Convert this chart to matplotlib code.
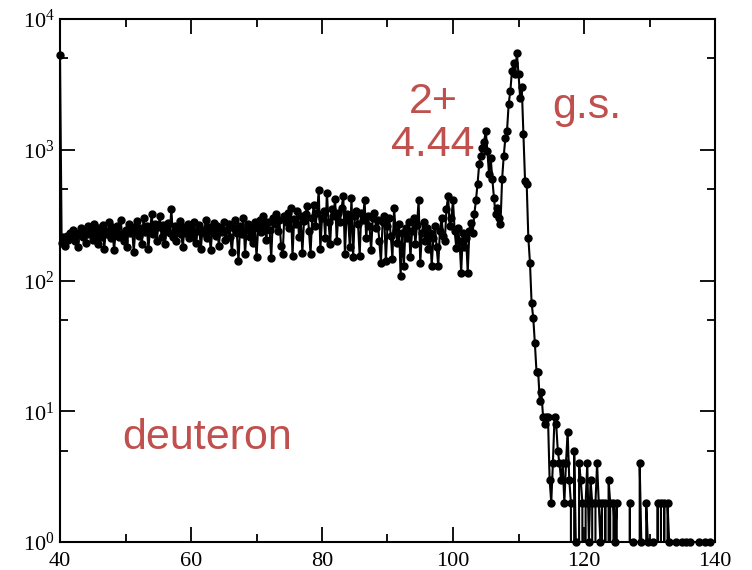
'''
deuteron spectrum, log scale
'''

import numpy as np
import matplotlib
matplotlib.use("Agg")
import matplotlib.pyplot as plt
from matplotlib.ticker import FixedLocator, FixedFormatter

# counts per 0.25 bin, 10 units per list
seg_40_50 = [5300, 195, 215, 185, 220, 205, 230, 210, 245, 200,
             225, 180, 235, 250, 215, 240, 195, 260, 225, 245,
             205, 270, 230, 190, 250, 215, 265, 175, 240, 225,
             280, 210, 255, 170, 235, 260, 215, 290, 225, 200]
seg_50_60 = [245, 180, 270, 230, 255, 165, 240, 285, 220, 250,
             190, 300, 235, 260, 175, 245, 320, 225, 270, 200,
             255, 310, 215, 265, 190, 240, 275, 230, 350, 215,
             260, 200, 245, 285, 225, 180, 255, 230, 270, 210]
seg_60_70 = [250, 215, 280, 195, 240, 265, 175, 245, 230, 290,
             210, 255, 170, 240, 275, 220, 260, 185, 250, 235,
             280, 205, 245, 270, 215, 165, 250, 290, 230, 140,
             260, 225, 300, 160, 245, 270, 215, 255, 195, 280]
seg_70_80 = [150, 250, 290, 235, 310, 265, 205, 280, 245, 148,
             300, 270, 320, 240, 290, 185, 160, 310, 280, 330,
             250, 360, 155, 295, 270, 340, 215, 310, 163, 285,
             320, 370, 240, 160, 300, 375, 260, 330, 490, 175]
seg_80_90 = [300, 340, 210, 470, 280, 190, 350, 310, 420, 200,
             330, 280, 360, 445, 160, 320, 290, 180, 430, 150,
             310, 340, 270, 155, 330, 290, 410, 210, 310, 260,
             170, 300, 330, 250, 290, 200, 137, 280, 310, 140]
seg_90_100 = [260, 300, 220, 147, 360, 240, 195, 270, 109, 230,
              130, 250, 210, 280, 150, 240, 300, 190, 265, 410,
              135, 230, 280, 200, 250, 175, 230, 130, 210, 260,
              180, 130, 240, 300, 220, 200, 350, 445, 260, 300]
seg_100_110 = [410, 240, 178, 250, 200, 115, 230, 180, 210, 115,
               240, 277, 230, 320, 410, 550, 780, 900, 1030, 1150,
               1400, 980, 650, 870, 600, 430, 320, 360, 300, 270,
               600, 900, 1240, 1400, 2250, 2800, 4000, 4600, 3800, 5500]
seg_110_120 = [3800, 2500, 3000, 1320, 580, 550, 213, 137, 67, 52,
               33, 20, 20, 12, 14, 9, 8, 9, 9, 3,
               2, 4, 9, 8, 5, 4, 3, 4, 2, 4,
               7, 3, 2, 0, 5, 1, 0, 4, 3, 2]
seg_120_130 = [0, 2, 4, 1, 3, 2, 0, 2, 4, 2,
               1, 2, 0, 2, 0, 3, 2, 0, 2, 1,
               2, 0, 0, 0, 0, 0, 0, 0, 2, 0,
               1, 0, 0, 0, 4, 1, 0, 0, 2, 1]
seg_130_140 = [0, 0, 1, 0, 0, 2, 0, 2, 0, 2,
               0, 2, 1, 0, 0, 0, 1, 0, 0, 0,
               1, 0, 1, 0, 0, 1, 0, 0, 0, 0,
               1, 0, 0, 0, 1, 0, 0, 1, 0, 0]

bin_start = 40
bin_width = 0.25

x_ticks = [40, 60, 80, 100, 120, 140]
y_ticks = [1, 10, 100, 1000, 10000]
y_labels = [r"$\mathregular{10^{%d}}$" % i for i in range(5)]

labels = [("2+", 433, 102), ("4.44", 433, 145), ("g.s.", 587, 107), ("deuteron", 207, 438)]
red = "#c0504d"


def main():
    counts = np.array(seg_40_50 + seg_50_60 + seg_60_70 + seg_70_80 + seg_80_90 +
                      seg_90_100 + seg_100_110 + seg_110_120 + seg_120_130 + seg_130_140,
                      dtype=float)
    x = bin_start + bin_width * np.arange(len(counts))

    plt.rcParams['font.family'] = ['Liberation Serif', 'DejaVu Serif']
    fig = plt.figure(figsize=(7.52, 5.70), dpi=100)
    ax = fig.add_axes([60 / 752, 1 - 542 / 570, 655 / 752, 523 / 570])

    ax.plot(x, counts, color="black", lw=1.5)
    pos = counts > 0
    ax.plot(x[pos], counts[pos], "o", color="black", ms=5, clip_on=False)

    ax.set_yscale("log")
    ax.set_xlim(40, 140)
    ax.set_ylim(1, 10000)

    ax.xaxis.set_major_locator(FixedLocator(x_ticks))
    ax.xaxis.set_minor_locator(FixedLocator([50, 70, 90, 110, 130]))
    ax.yaxis.set_major_locator(FixedLocator(y_ticks))
    ax.yaxis.set_major_formatter(FixedFormatter(y_labels))
    ax.yaxis.set_minor_locator(FixedLocator([5, 50, 500, 5000]))
    ax.yaxis.set_minor_formatter(FixedFormatter([""] * 4))

    ax.tick_params(which="both", direction="in", top=True, right=True,
                   width=1.3, labelsize=16)
    ax.tick_params(which="major", length=11)
    ax.tick_params(which="minor", length=6)
    ax.tick_params(axis="y", pad=4)
    ax.tick_params(axis="x", pad=7)
    for s in ax.spines.values():
        s.set_linewidth(1.5)

    for txt, px, py in labels:
        fig.text(px / 752, 1 - py / 570, txt, color=red, fontsize=31,
                 family="Liberation Sans", ha="center", va="center")

    fig.savefig("out.png", dpi=100)


if __name__ == "__main__":
    main()
